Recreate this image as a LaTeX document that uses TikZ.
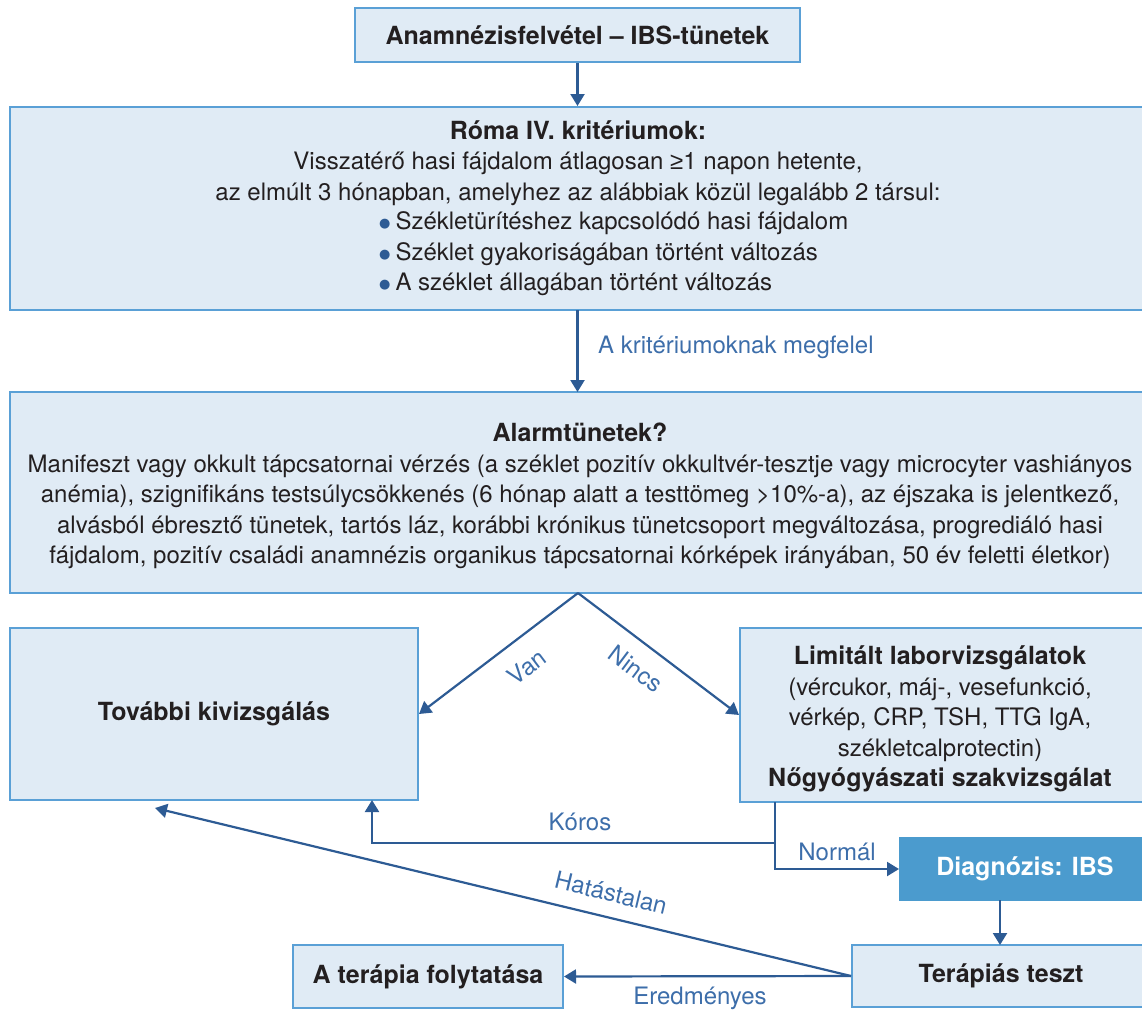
\documentclass[tikz,border=0pt]{standalone}
\usepackage{fontspec}
\setmainfont{TeX Gyre Heros}
\newfontfamily\symf{Liberation Sans}
\newfontfamily\dvs{DejaVu Sans}
\usetikzlibrary{arrows.meta}
\definecolor{boxfill}{HTML}{E0EBF5}
\definecolor{boxline}{HTML}{5AA0D6}
\definecolor{arrc}{HTML}{2D5B94}
\definecolor{labc}{HTML}{3D6EAA}
\definecolor{diagc}{HTML}{4B9BCE}
\definecolor{txtc}{HTML}{231F20}
\newcommand{\bt}{\fontsize{25}{30.5}\selectfont\bfseries}
\newcommand{\bul}{\raisebox{2pt}{\textcolor{arrc}{\dvs\fontsize{13}{13}\selectfont ●}}\hspace{5pt}}
\begin{document}
\begin{tikzpicture}[x=1pt,y=-1pt,
  box/.style={draw=boxline, line width=2pt, fill=boxfill, rectangle, inner sep=0pt, text=txtc,
    font=\fontsize{24}{30.5}\selectfont},
  txt/.style={inner sep=0pt, text=txtc, font=\fontsize{24}{30.5}\selectfont},
  lab/.style={inner sep=0pt, text=labc, font=\fontsize{24}{28}\selectfont},
  arr/.style={draw=arrc, line width=2.2pt, -{Triangle[width=14pt,length=12pt]}},
  ln/.style={draw=arrc, line width=2.2pt}]
\useasboundingbox (0,0) rectangle (1142,1010);
\clip (0,0) rectangle (1142,1010);
% boxes
\node[box, minimum width=445pt, minimum height=54pt] (box1) at (577.5,35) {\bt Anamnézisfelvétel – IBS-tünetek};
\node[box, minimum width=1142pt, minimum height=203pt] (roma) at (581,208.5) {};
\node[box, minimum width=1142pt, minimum height=201pt] (alarm) at (581,492.5) {};
\node[box, minimum width=408pt, minimum height=172pt] (tovabbi) at (214,714) {\bt További kivizsgálás};
\node[box, minimum width=412pt, minimum height=174pt] (limit) at (946,715) {};
\node[box, draw=diagc, fill=diagc, text=white, minimum width=252pt, minimum height=62pt] (diag) at (1026,869) {};
\node[box, minimum width=300pt, minimum height=62pt] (terap) at (1002,976) {};
\node[box, minimum width=270pt, minimum height=63pt] (folyt) at (428,976.5) {\bt A terápia folytatása};
% texts
\node[txt, align=center] (romat) at (578,163) {\bt Róma IV. kritériumok:\\
Visszatérő hasi fájdalom átlagosan {\symf ≥}1 napon hetente,\\
az elmúlt 3 hónapban, amelyhez az alábbiak közül legalább 2 társul:};
\node[txt, align=left, anchor=west] (romab) at (379,254) {\bul Székletürítéshez kapcsolódó hasi fájdalom\\
\bul Széklet gyakoriságában történt változás\\
\bul A széklet állagában történt változás};
\node[txt, align=center] (alarmt) at (580,496) {\bt Alarmtünetek?\\
Manifeszt vagy okkult tápcsatornai vérzés (a széklet pozitív okkultvér-tesztje vagy microcyter vashiányos\\
anémia), szignifikáns testsúlycsökkenés (6 hónap alatt a testtömeg >10\%-a), az éjszaka is jelentkező,\\
alvásból ébresztő tünetek, tartós láz, korábbi krónikus tünetcsoport megváltozása, progrediáló hasi\\
fájdalom, pozitív családi anamnézis organikus tápcsatornai kórképek irányában, 50 év feletti életkor)};
\node[txt, align=center] (limitt) at (940,719) {\bt Limitált laborvizsgálatok\\
(vércukor, máj-, vesefunkció,\\
vérkép, CRP, TSH, TTG IgA,\\
székletcalprotectin)\\
\bt Nőgyógyászati szakvizsgálat};
\node[txt, text=white] (diagt) at (1025,869) {\bt Diagnózis: IBS};
\node[txt] (terapt) at (1001,976) {\bt Terápiás teszt};
% coordinates
\coordinate (c1) at (577.5,310);
\coordinate (c2) at (577.5,392);
\coordinate (c3) at (578,593);
\coordinate (split) at (775,843);
\coordinate (ltop) at (775,802);
\coordinate (kup) at (372,800);
\coordinate (dtop) at (1000,900);
\coordinate (tbot) at (1000,945);
\coordinate (hend) at (155,808);
% connectors
\draw[arr] (box1.south) -- (box1.south |- roma.north);
\draw[arr] (c1) -- (c2);
\node[lab, anchor=west] (l1) at (598,347) {A kritériumoknak megfelel};
\draw[arr] (c3) -- (tovabbi.east);
\draw[arr] (c3) -- (limit.west);
\node[lab, rotate=37] (lvan) at (527,667) {Van};
\node[lab, rotate=-37] (lnincs) at (636,669) {Nincs};
\draw[ln] (ltop) -- (split);
\draw[arr] (split) -| (kup);
\node[lab] (lkor) at (580,822) {Kóros};
\draw[arr] (split) |- (diag.west);
\node[lab] (lnorm) at (837,852) {Normál};
\draw[arr] (dtop) -- (tbot);
\draw[arr] (terap.west) -- (folyt.east);
\node[lab] (lered) at (700,998) {Eredményes};
\draw[arr] (terap.west) -- (hend);
\node[lab, rotate=-13.6] (lhat) at (611,893) {Hatástalan};
\end{tikzpicture}
\end{document}
